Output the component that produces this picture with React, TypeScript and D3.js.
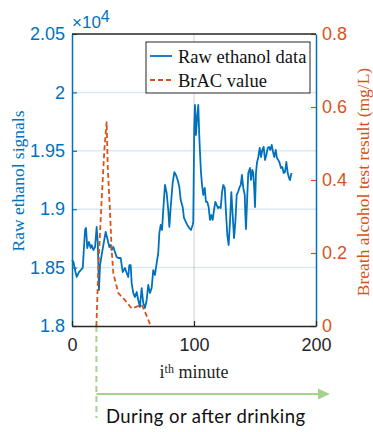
import React from "react";
import * as d3 from "d3";

// raw ethanol sensor readings (x1e4) against minute
const rawMinutes = [
  0, 1.2, 2.5, 3.9, 5.7, 8.8, 10.7, 11.5, 12.5, 13.9,
  15.3, 16.1, 17.5, 18.9, 20.2, 21.1, 21.9, 22.1, 23, 24.3,
  25.7, 27.6, 28.9, 30.6, 31.7, 32.5, 33.9, 35.2, 36.6, 38,
  39.9, 41.6, 43.4, 44.8, 46.1, 47, 48.1, 48.9, 50.2, 51.6,
  53, 54.3, 55.7, 57.1, 58.4, 59.8, 61.2, 62.5, 63.9, 65.3,
  66.6, 68, 69.4, 70.7, 71.6, 72.7, 73.8, 74.8, 76.2, 77.6,
  78.9, 79.8, 80.9, 82.5, 83.9, 85.2, 86.6, 88, 89.1, 90.7,
  91.8, 93.4, 94.5, 96.1, 97.5, 98.9, 99.4, 100.2, 100.8, 101.6,
  102.7, 103.5, 104.3, 104.9, 105.7, 106.6, 107.6, 108.8, 109.8, 110.9,
  112, 113.1, 114.2, 115.3, 116.4, 117.5, 118.6, 119.7, 120.7, 121.9,
  123, 124, 125.2, 126.2, 127.3, 128.4, 129.5, 130.6, 131.7, 132.8,
  133.9, 135, 136.1, 137.1, 138.3, 139.3, 140.4, 141.6, 142, 142.6,
  143.7, 144.5, 145.9, 146.7, 147.8, 148.6, 149.4, 150, 150.8, 151.6,
  152.7, 153.9, 154.9, 156, 157.1, 158.2, 159.3, 160.4, 161.5, 162.5,
  163.7, 164.8, 165.8, 167, 168, 169.1, 170.2, 171.3, 172.4, 173.5,
  174.6, 175.7, 176.8, 177.9, 178.7, 179.5, 180,
];
const rawValues = [
  1.8565, 1.8548, 1.8479, 1.842, 1.8462, 1.8497, 1.8822, 1.8839, 1.8668, 1.8719,
  1.8668, 1.8693, 1.8651, 1.8676, 1.8848, 1.8719, 1.8411, 1.8308, 1.8522, 1.8608,
  1.8693, 1.8805, 1.8753, 1.8676, 1.8693, 1.8651, 1.8676, 1.8634, 1.8591, 1.8582,
  1.8582, 1.8462, 1.8497, 1.8454, 1.842, 1.8522, 1.8522, 1.8368, 1.8283, 1.8248,
  1.8291, 1.8223, 1.8163, 1.8325, 1.8197, 1.8154, 1.8223, 1.8351, 1.8283, 1.8325,
  1.8479, 1.8437, 1.8539, 1.8625, 1.8796, 1.8865, 1.8822, 1.8993, 1.9207, 1.9139,
  1.8993, 1.8848, 1.9019, 1.9224, 1.9318, 1.9293, 1.925, 1.919, 1.9079, 1.9019,
  1.8925, 1.889, 1.8865, 1.8839, 1.8822, 1.8865, 1.889, 1.9695, 1.9892, 1.9635,
  1.9807, 1.9892, 1.9635, 1.949, 1.9318, 1.9207, 1.9122, 1.9182, 1.9062, 1.9062,
  1.9019, 1.8908, 1.895, 1.8908, 1.8993, 1.9062, 1.9036, 1.901, 1.9019, 1.901,
  1.9147, 1.9207, 1.9182, 1.8976, 1.8779, 1.8693, 1.889, 1.9147, 1.895, 1.8753,
  1.889, 1.9122, 1.9147, 1.9182, 1.9207, 1.9293, 1.9182, 1.9122, 1.8976, 1.883,
  1.9122, 1.931, 1.9353, 1.925, 1.9336, 1.931, 1.9164, 1.9019, 1.931, 1.9396,
  1.9447, 1.9524, 1.9447, 1.9507, 1.9533, 1.9421, 1.9464, 1.9524, 1.9533, 1.9507,
  1.955, 1.949, 1.9447, 1.9507, 1.9438, 1.9421, 1.9396, 1.9353, 1.9361, 1.931,
  1.9319, 1.9404, 1.931, 1.9267, 1.925, 1.9293, 1.931,
];

// breath alcohol test results (mg/L)
const bracMinutes = [20, 21.6, 24.3, 26.5, 28.4, 29.3, 31.1, 32.5, 33.9, 38, 43.4, 48.9, 53, 57.1, 59.8, 64];
const bracValues = [0, 0.162, 0.345, 0.482, 0.56, 0.436, 0.318, 0.208, 0.144, 0.09, 0.071, 0.048, 0.053, 0.058, 0.039, 0.005];

const leftTicks = [1.8, 1.85, 1.9, 1.95, 2, 2.05];
const rightTicks = [0, 0.2, 0.4, 0.6, 0.8];
const xTicks = [0, 100, 200];
const legendLabels = ["Raw ethanol data", "BrAC value"];
const drinkStart = 20;

const BLUE = "#0072BD";
const ORANGE = "#D95319";
const GREEN = "#A9D18E";
const SANS = "'Liberation Sans', Arial, Helvetica, sans-serif";
const SERIF = "'Liberation Serif', 'Times New Roman', serif";

class EthanolChart extends React.Component {
  componentDidMount() {
    this.draw();
  }

  draw() {
    var width = 373,
      height = 432;
    var left = 72,
      right = 316,
      top = 34,
      bottom = 326;

    var root = d3.select("#ethanolChart");
    root.selectAll("*").remove();

    var svg = root
      .append("svg")
      .attr("width", width)
      .attr("height", height)
      .style("position", "absolute")
      .style("left", "0px")
      .style("top", "0px")
      .style("background", "white");

    var x = d3.scaleLinear().domain([0, 200]).range([left, right]);
    var yL = d3.scaleLinear().domain([1.8, 2.05]).range([bottom, top]);
    var yR = d3.scaleLinear().domain([0, 0.8]).range([bottom, top]);

    // grid lines
    svg
      .selectAll("hgrid")
      .data(leftTicks.slice(1, -1))
      .enter()
      .append("line")
      .attr("x1", left)
      .attr("x2", right)
      .attr("y1", (d) => yL(d))
      .attr("y2", (d) => yL(d))
      .attr("stroke", BLUE)
      .attr("stroke-opacity", 0.15)
      .attr("stroke-width", 1.5);
    svg
      .selectAll("vgrid")
      .data(xTicks.slice(1, -1))
      .enter()
      .append("line")
      .attr("x1", (d) => x(d))
      .attr("x2", (d) => x(d))
      .attr("y1", top)
      .attr("y2", bottom)
      .attr("stroke", "#262626")
      .attr("stroke-opacity", 0.15)
      .attr("stroke-width", 1.5);

    // green marker for drinking start (drawn under the data)
    var gx = x(drinkStart);
    svg
      .append("line")
      .attr("x1", gx)
      .attr("x2", gx)
      .attr("y1", bottom)
      .attr("y2", 418)
      .attr("stroke", GREEN)
      .attr("stroke-width", 2)
      .attr("stroke-dasharray", "6,4");
    svg
      .append("line")
      .attr("x1", gx)
      .attr("x2", 319)
      .attr("y1", 394)
      .attr("y2", 394)
      .attr("stroke", GREEN)
      .attr("stroke-width", 2);
    svg
      .append("path")
      .attr("d", "M318,388.5 L330,394 L318,399.5 Z")
      .attr("fill", GREEN);

    // data lines
    var rawLine = d3
      .line<number>()
      .x((d, i) => x(rawMinutes[i]))
      .y((d) => yL(d));
    svg
      .append("path")
      .attr("d", rawLine(rawValues) as any)
      .attr("fill", "none")
      .attr("stroke", BLUE)
      .attr("stroke-width", 1.8)
      .attr("stroke-linejoin", "round");

    var bracLine = d3
      .line<number>()
      .x((d, i) => x(bracMinutes[i]))
      .y((d) => yR(d));
    svg
      .append("path")
      .attr("d", bracLine(bracValues) as any)
      .attr("fill", "none")
      .attr("stroke", ORANGE)
      .attr("stroke-width", 1.8)
      .attr("stroke-dasharray", "5,3");

    // axes
    var fmt = (d: any) => String(d);
    var gL = svg
      .append("g")
      .attr("transform", "translate(" + left + ",0)")
      .call(d3.axisLeft(yL).tickValues(leftTicks).tickSize(-5).tickSizeOuter(0).tickPadding(7).tickFormat(fmt));
    var gR = svg
      .append("g")
      .attr("transform", "translate(" + right + ",0)")
      .call(d3.axisRight(yR).tickValues(rightTicks).tickSize(-5).tickSizeOuter(0).tickPadding(6).tickFormat(fmt));
    var gB = svg
      .append("g")
      .attr("transform", "translate(0," + bottom + ")")
      .call(d3.axisBottom(x).tickValues(xTicks).tickSize(-5).tickSizeOuter(0).tickPadding(12).tickFormat(fmt));

    gL.selectAll(".tick line").attr("stroke", BLUE).attr("stroke-width", 1.2);
    gL.selectAll(".tick text").attr("fill", BLUE);
    gL.select(".domain").attr("stroke", BLUE).attr("stroke-width", 1.5);
    gR.selectAll(".tick line").attr("stroke", ORANGE).attr("stroke-width", 1.2);
    gR.selectAll(".tick text").attr("fill", ORANGE);
    gR.select(".domain").attr("stroke", BLUE).attr("stroke-width", 1.5);
    gB.selectAll(".tick line").attr("stroke", "#262626").attr("stroke-width", 1.2);
    gB.selectAll(".tick text").attr("fill", "#262626");
    gB.select(".domain").attr("stroke", "#262626").attr("stroke-width", 1.5);
    [gL, gR, gB].forEach((g) => g.attr("font-family", SANS).attr("font-size", 18));

    svg
      .append("line")
      .attr("x1", left)
      .attr("x2", right)
      .attr("y1", top)
      .attr("y2", top)
      .attr("stroke", "#262626")
      .attr("stroke-width", 1.5);

    // exponent
    var exp = svg
      .append("text")
      .attr("x", 72)
      .attr("y", 28)
      .attr("fill", BLUE)
      .attr("font-family", SANS)
      .attr("font-size", 17);
    exp.append("tspan").text("×10");
    exp.append("tspan").attr("dy", -6).attr("font-size", 16).text("4");

    // axis titles
    svg
      .append("text")
      .attr("transform", "translate(24,181) rotate(-90)")
      .attr("text-anchor", "middle")
      .attr("fill", BLUE)
      .attr("font-family", SERIF)
      .attr("font-size", 17.5)
      .text("Raw ethanol signals");
    svg
      .append("text")
      .attr("transform", "translate(369,182) rotate(-90)")
      .attr("text-anchor", "middle")
      .attr("fill", ORANGE)
      .attr("font-family", SERIF)
      .attr("font-size", 17.5)
      .text("Breath alcohol test result (mg/L)");

    var xt = svg
      .append("text")
      .attr("x", x(100))
      .attr("y", 378)
      .attr("text-anchor", "middle")
      .attr("fill", "#262626")
      .attr("font-family", SERIF)
      .attr("font-size", 18);
    xt.append("tspan").text("i");
    xt.append("tspan").attr("dy", -5).attr("font-size", 12).text("th");
    xt.append("tspan").attr("dy", 5).text(" minute");

    // legend
    var lg = svg.append("g");
    lg.append("rect")
      .attr("x", 146)
      .attr("y", 42)
      .attr("width", 164)
      .attr("height", 51)
      .attr("fill", "white")
      .attr("stroke", "#262626")
      .attr("stroke-width", 1);
    var rows = lg
      .selectAll("legendRow")
      .data(legendLabels)
      .enter()
      .append("g")
      .attr("transform", (d, i) => "translate(0," + (56 + i * 24) + ")");
    rows
      .append("line")
      .attr("x1", 150)
      .attr("x2", 172)
      .attr("stroke", (d, i) => (i === 0 ? BLUE : ORANGE))
      .attr("stroke-width", (d, i) => (i === 0 ? 1.8 : 1.8))
      .attr("stroke-dasharray", (d, i) => (i === 0 ? null : "5,3"));
    rows
      .append("text")
      .attr("x", 178)
      .attr("y", 7)
      .attr("fill", "#111")
      .attr("font-family", SERIF)
      .attr("font-size", 18.5)
      .text((d) => d);

    svg
      .append("text")
      .attr("x", 106)
      .attr("y", 423)
      .attr("fill", "#111")
      .attr("font-family", "Lato, 'Noto Sans', sans-serif")
      .attr("font-size", 18.5)
      .attr("textLength", 199)
      .attr("lengthAdjust", "spacing")
      .text("During or after drinking");
  }

  render() {
    return <div id="ethanolChart"></div>;
  }
}

export default function App() {
  return <EthanolChart />;
}
